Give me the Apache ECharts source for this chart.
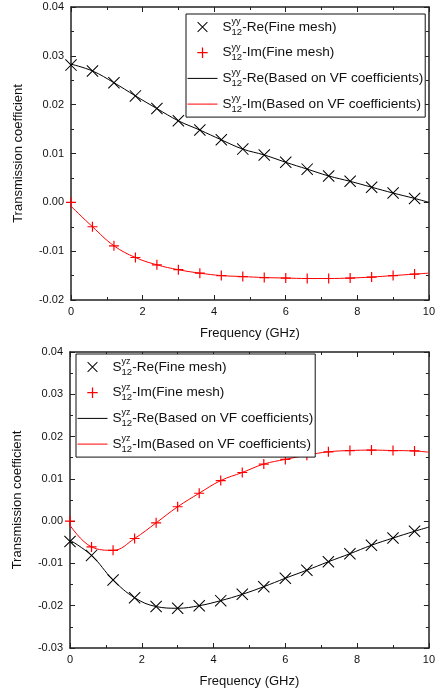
<!DOCTYPE html>
<html>
<head>
<meta charset="utf-8">
<script src="https://cdn.jsdelivr.net/npm/echarts@6/dist/echarts.min.js"></script>
<style>
html,body{margin:0;padding:0;background:#fff;}
#c{width:438px;height:691px;}
</style>
</head>
<body>
<div id="c"></div>
<script>
// ---- data ----
var freqMesh = [0, 0.6, 1.2, 1.8, 2.4, 3.0, 3.6, 4.2, 4.8, 5.4, 6.0, 6.6, 7.2, 7.8, 8.4, 9.0, 9.6];
var freqVF   = [0, 0.6, 1.2, 1.8, 2.4, 3.0, 3.6, 4.2, 4.8, 5.4, 6.0, 6.6, 7.2, 7.8, 8.4, 9.0, 9.6, 10];

// top panel: S12 yy
var yyReMesh = [0.0281, 0.0269, 0.0245, 0.0218, 0.0192, 0.0167, 0.0148, 0.0128, 0.0109, 0.0097, 0.0082, 0.0068, 0.0054, 0.0043, 0.0031, 0.0019, 0.0008];
var yyImMesh = [0.0000, -0.0050, -0.0089, -0.0113, -0.0128, -0.0138, -0.0145, -0.0150, -0.0152, -0.0154, -0.0155, -0.0156, -0.0156, -0.0155, -0.0153, -0.0150, -0.0147];
var yyReVF   = [0.0283, 0.0269, 0.0245, 0.0218, 0.0192, 0.0167, 0.0148, 0.0128, 0.0109, 0.0097, 0.0082, 0.0068, 0.0054, 0.0043, 0.0031, 0.0019, 0.0008, 0.0000];
var yyImVF   = [-0.0008, -0.0050, -0.0089, -0.0113, -0.0128, -0.0138, -0.0145, -0.0150, -0.0152, -0.0154, -0.0155, -0.0156, -0.0156, -0.0155, -0.0153, -0.0150, -0.0147, -0.0145];

// bottom panel: S12 yz
var yzReMesh = [-0.0048, -0.0081, -0.0139, -0.0181, -0.0202, -0.0206, -0.0200, -0.0188, -0.0173, -0.0155, -0.0135, -0.0116, -0.0096, -0.0077, -0.0057, -0.0040, -0.0024];
var yzImMesh = [0.0000, -0.0061, -0.0069, -0.0041, -0.0004, 0.0034, 0.0066, 0.0096, 0.0115, 0.0135, 0.0146, 0.0156, 0.0164, 0.0167, 0.0168, 0.0167, 0.0166];
var yzReVF   = [-0.0045, -0.0081, -0.0139, -0.0181, -0.0202, -0.0206, -0.0200, -0.0188, -0.0173, -0.0155, -0.0135, -0.0116, -0.0096, -0.0077, -0.0057, -0.0040, -0.0024, -0.0014];
var yzImVF   = [-0.0010, -0.0061, -0.0069, -0.0041, -0.0004, 0.0034, 0.0066, 0.0096, 0.0115, 0.0135, 0.0146, 0.0156, 0.0164, 0.0167, 0.0168, 0.0167, 0.0166, 0.0163];

var xTicks = {min: 0, max: 10, interval: 2};
var yTicks = {min: -0.02, max: 0.04, interval: 0.01};
var yTicksB = {min: -0.03, max: 0.04, interval: 0.01};

var xName = 'Frequency (GHz)';
var yName = 'Transmission coefficient';

var namesYY = ['S12yy-Re(Fine mesh)', 'S12yy-Im(Fine mesh)', 'S12yy-Re(Based on VF coefficients)', 'S12yy-Im(Based on VF coefficients)'];
var namesYZ = ['S12yz-Re(Fine mesh)', 'S12yz-Im(Fine mesh)', 'S12yz-Re(Based on VF coefficients)', 'S12yz-Im(Based on VF coefficients)'];

// ---- chart ----
var FONT = 'Liberation Sans, Arial, sans-serif';
var X_PATH = 'path://M0,6 L6,0 L100,94 L94,100 Z M94,0 L100,6 L6,100 L0,94 Z';
var P_PATH = 'path://M44,0 L56,0 L56,100 L44,100 Z M0,44 L100,44 L100,56 L0,56 Z';

function pairs(xs, ys) { return xs.map(function (x, i) { return [x, ys[i]]; }); }

function xAx(grid, pos, show, ticks) {
  return {
    type: 'value', gridIndex: grid, position: pos,
    min: ticks.min, max: ticks.max, interval: ticks.interval,
    name: show ? xName : '', nameLocation: 'middle', nameGap: 27,
    nameTextStyle: {fontFamily: FONT, fontSize: 13, color: '#111'},
    axisLine: {show: true, onZero: false, lineStyle: {color: '#222', width: 1.5}},
    axisTick: {show: true, inside: true, length: 5, lineStyle: {color: '#222', width: 1}},
    minorTick: {show: true, splitNumber: 2, length: 3, lineStyle: {color: '#222', width: 1}},
    axisLabel: {show: show, margin: 6, fontFamily: FONT, fontSize: 11, color: '#111'},
    splitLine: {show: false}
  };
}
function yAx(grid, pos, show, ticks) {
  return {
    type: 'value', gridIndex: grid, position: pos,
    min: ticks.min, max: ticks.max, interval: ticks.interval,
    name: show ? yName : '', nameLocation: 'middle', nameGap: 46,
    nameTextStyle: {fontFamily: FONT, fontSize: 13, color: '#111'},
    axisLine: {show: true, onZero: false, lineStyle: {color: '#222', width: 1.5}},
    axisTick: {show: true, inside: true, length: 5, lineStyle: {color: '#222', width: 1}},
    minorTick: {show: true, splitNumber: 2, length: 3, lineStyle: {color: '#222', width: 1}},
    axisLabel: {show: show, margin: 7, fontFamily: FONT, fontSize: 11, color: '#111',
      formatter: function (v) { return v.toFixed(2); }},
    splitLine: {show: false}
  };
}

function markerSeries(name, xi, yi, xs, ys, sym, size, color) {
  return {
    type: 'line', name: name, xAxisIndex: xi, yAxisIndex: yi,
    data: pairs(xs, ys), symbol: sym, symbolSize: size, showSymbol: true,
    itemStyle: {color: color}, lineStyle: {width: 0, opacity: 0}, z: 3
  };
}
function lineSeries(name, xi, yi, xs, ys, color) {
  return {
    type: 'line', name: name, xAxisIndex: xi, yAxisIndex: yi,
    data: pairs(xs, ys), symbol: 'none', smooth: 0.4,
    itemStyle: {color: color}, lineStyle: {width: 1, color: color}, z: 2
  };
}

var rich = {
  S: {fontFamily: FONT, fontSize: 13.6, color: '#111', lineHeight: 20},
  sup: {fontFamily: FONT, fontSize: 9, color: '#111', width: 0, verticalAlign: 'top', lineHeight: 10},
  sub: {fontFamily: FONT, fontSize: 9.5, color: '#111', verticalAlign: 'bottom', lineHeight: 9},
  t: {fontFamily: FONT, fontSize: 13.6, color: '#111', lineHeight: 20}
};
function fmt(name) {
  var m = name.match(/^S12(yy|yz)(.*)$/);
  return '{S|S}{sup|' + m[1] + '}{sub|12}{t|' + m[2] + '}';
}
function legend(names, left, top) {
  return {
    data: names.map(function (n, i) {
      return i < 2 ? {name: n} : {name: n, itemStyle: {opacity: 0}};
    }),
    orient: 'vertical', left: left, top: top,
    itemWidth: 30, itemHeight: 13, itemGap: 5.7,
    padding: [3, 2, 3, 1],
    lineStyle: {width: 1},
    backgroundColor: '#fff', borderColor: '#111', borderWidth: 1,
    formatter: fmt, textStyle: {rich: rich}, selectedMode: false
  };
}

var option = {
  animation: false,
  backgroundColor: '#fff',
  grid: [
    {left: 71, top: 7, width: 359, height: 293},
    {left: 70, top: 352, width: 362, height: 296}
  ],
  xAxis: [xAx(0, 'bottom', true, xTicks), xAx(0, 'top', false, xTicks), xAx(1, 'bottom', true, xTicks), xAx(1, 'top', false, xTicks)],
  yAxis: [yAx(0, 'left', true, yTicks), yAx(0, 'right', false, yTicks), yAx(1, 'left', true, yTicksB), yAx(1, 'right', false, yTicksB)],
  legend: [legend(namesYY, 186, 14), legend(namesYZ, 76, 354)],
  series: [
    lineSeries(namesYY[2], 0, 0, freqVF, yyReVF, '#000'),
    lineSeries(namesYY[3], 0, 0, freqVF, yyImVF, '#ff0000'),
    markerSeries(namesYY[0], 0, 0, freqMesh, yyReMesh, X_PATH, 12, '#000'),
    markerSeries(namesYY[1], 0, 0, freqMesh, yyImMesh, P_PATH, 10, '#ff0000'),
    lineSeries(namesYZ[2], 2, 2, freqVF, yzReVF, '#000'),
    lineSeries(namesYZ[3], 2, 2, freqVF, yzImVF, '#ff0000'),
    markerSeries(namesYZ[0], 2, 2, freqMesh, yzReMesh, X_PATH, 12, '#000'),
    markerSeries(namesYZ[1], 2, 2, freqMesh, yzImMesh, P_PATH, 10, '#ff0000')
  ]
};
var chart = echarts.init(document.getElementById('c'), null, {renderer: 'canvas'});
chart.setOption(option);
</script>
</body>
</html>
